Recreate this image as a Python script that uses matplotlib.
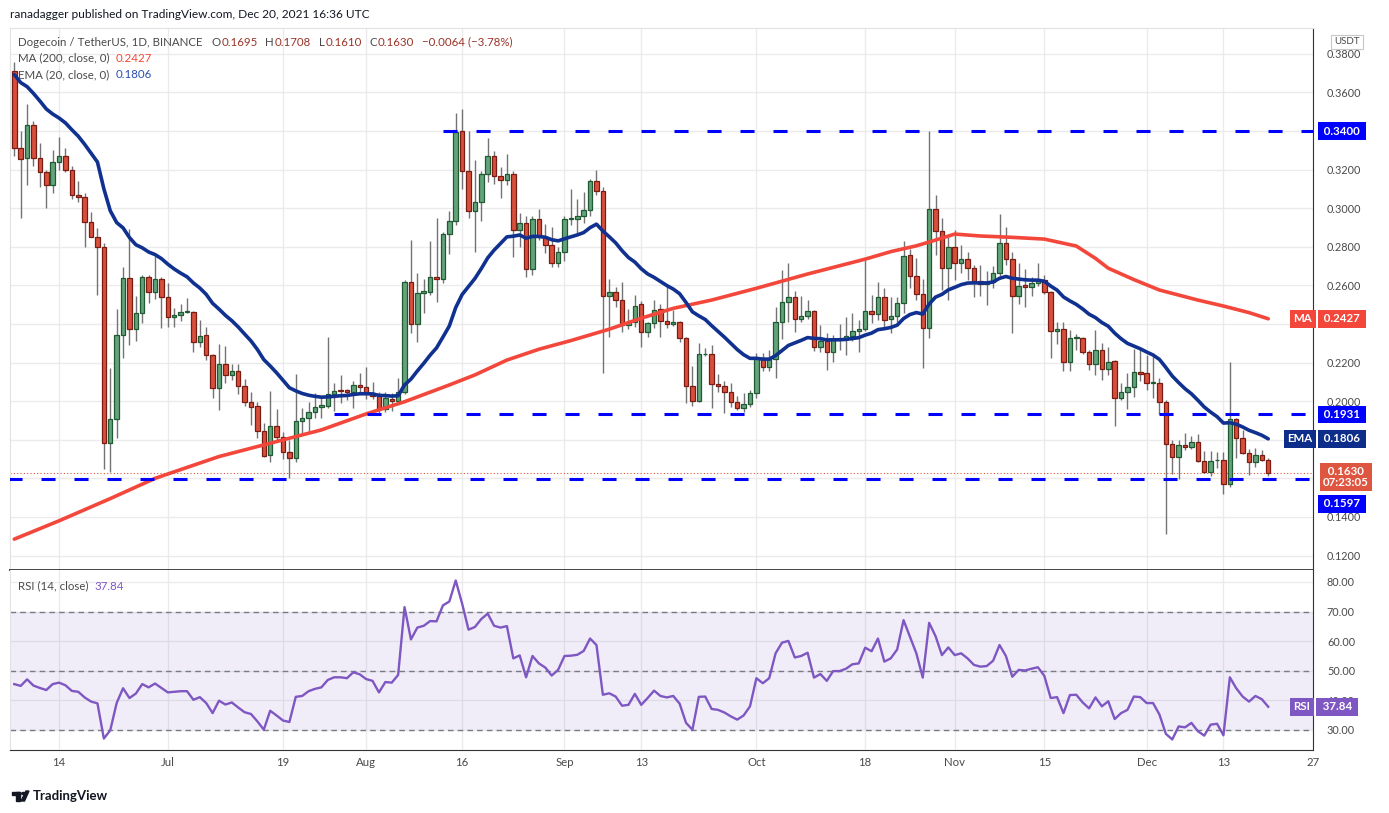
import matplotlib
matplotlib.use('Agg')
import matplotlib.pyplot as plt
import matplotlib.transforms as mtransforms
from matplotlib.patches import Rectangle, Polygon, Circle
import numpy as np
import pandas as pd

plt.rcParams['font.family'] = ['Lato', 'DejaVu Sans']

# ---- data (DOGE/USDT daily, Binance) ----
start = pd.Timestamp('2021-06-07')

opens = [0.371, 0.331, 0.326, 0.343, 0.326, 0.319, 0.312, 0.324, 0.327, 0.320,
         0.307, 0.3057, 0.293, 0.2853, 0.280, 0.1785, 0.1906, 0.2343, 0.2637, 0.2373,
         0.2456, 0.2642, 0.2568, 0.2633, 0.254, 0.2436, 0.2447, 0.2461, 0.2461, 0.2309,
         0.2343, 0.224, 0.2067, 0.2193, 0.2134, 0.2154, 0.2079, 0.1995, 0.1975, 0.1847,
         0.1722, 0.1869, 0.1812, 0.1736, 0.1705, 0.1899, 0.1912, 0.1946, 0.1969, 0.1975,
         0.2036, 0.2057, 0.2056, 0.2047, 0.2083, 0.2073, 0.2041, 0.2029, 0.1958, 0.201,
         0.2003, 0.2047, 0.2616, 0.2399, 0.2559, 0.2568, 0.2642, 0.2633, 0.2865, 0.2936,
         0.3398, 0.3193, 0.2988, 0.3031, 0.3176, 0.3269, 0.3166, 0.3145, 0.3176, 0.2888,
         0.2922, 0.2684, 0.2943, 0.2853, 0.2808, 0.2715, 0.2775, 0.2943, 0.2943, 0.2958,
         0.299, 0.3141, 0.3089, 0.2547, 0.2565, 0.2523, 0.2394, 0.2409, 0.2503, 0.2357,
         0.2404, 0.2477, 0.2416, 0.2399, 0.2409, 0.2326, 0.2081, 0.2003, 0.2243, 0.2243,
         0.2088, 0.2081, 0.2047, 0.1995, 0.1964, 0.1984, 0.2041, 0.2223, 0.2179, 0.2218,
         0.2412, 0.2513, 0.2539, 0.2425, 0.2442, 0.2467, 0.2283, 0.2312, 0.2257, 0.232,
         0.2321, 0.2338, 0.2366, 0.2373, 0.2469, 0.245, 0.2542, 0.2425, 0.2443, 0.2508,
         0.2756, 0.2649, 0.2555, 0.2378, 0.2995, 0.2882, 0.2689, 0.2798, 0.2715, 0.2736,
         0.2689, 0.2625, 0.2606, 0.2616, 0.2663, 0.2818, 0.2736, 0.2547, 0.2602, 0.259,
         0.2611, 0.2627, 0.2565, 0.2362, 0.2373, 0.2205, 0.2326, 0.2326, 0.2254, 0.2192,
         0.2265, 0.2166, 0.2208, 0.2015, 0.2047, 0.2071, 0.215, 0.2145, 0.2094, 0.2094,
         0.1995, 0.1778, 0.171, 0.1773, 0.1762, 0.1788, 0.1691, 0.1635, 0.1693, 0.1695,
         0.1571, 0.1906, 0.1808, 0.173, 0.1684, 0.1721, 0.1695]
highs = [0.376, 0.340, 0.354, 0.345, 0.334, 0.320, 0.330, 0.337, 0.331, 0.322,
         0.314, 0.308, 0.298, 0.2896, 0.282, 0.217, 0.248, 0.2694, 0.289, 0.2547,
         0.2653, 0.2655, 0.2752, 0.2645, 0.2612, 0.2484, 0.2504, 0.2533, 0.2465, 0.2421,
         0.2386, 0.2245, 0.2296, 0.2286, 0.2193, 0.2192, 0.2113, 0.2047, 0.1995, 0.1886,
         0.2053, 0.1958, 0.184, 0.180, 0.2142, 0.1964, 0.1995, 0.2041, 0.2025, 0.2331,
         0.2093, 0.2136, 0.2065, 0.2105, 0.2145, 0.2179, 0.2099, 0.2045, 0.2045, 0.204,
         0.2119, 0.2628, 0.2835, 0.2663, 0.2633, 0.283, 0.2951, 0.2879, 0.2988, 0.3495,
         0.3514, 0.3398, 0.325, 0.3193, 0.3362, 0.3297, 0.3212, 0.328, 0.3193, 0.2974,
         0.296, 0.296, 0.2996, 0.2917, 0.2902, 0.2801, 0.296, 0.310, 0.3048, 0.3083,
         0.315, 0.3198, 0.3112, 0.2632, 0.2594, 0.2616, 0.2477, 0.255, 0.2519, 0.2408,
         0.2524, 0.2505, 0.2597, 0.2472, 0.2415, 0.2335, 0.2182, 0.23, 0.2275, 0.2291,
         0.2141, 0.2102, 0.2094, 0.2027, 0.2041, 0.2058, 0.2249, 0.2249, 0.2265, 0.2487,
         0.268, 0.2715, 0.2571, 0.2545, 0.2524, 0.2475, 0.2395, 0.2352, 0.2345, 0.24,
         0.2438, 0.2459, 0.2421, 0.2732, 0.255, 0.2616, 0.2585, 0.2542, 0.2542, 0.283,
         0.2791, 0.2741, 0.2632, 0.340, 0.3068, 0.2948, 0.2853, 0.2887, 0.2809, 0.2775,
         0.2706, 0.2706, 0.2675, 0.27, 0.2969, 0.2902, 0.2771, 0.2715, 0.2684, 0.2643,
         0.2715, 0.2654, 0.257, 0.2412, 0.2412, 0.2369, 0.235, 0.2335, 0.2265, 0.2369,
         0.23, 0.228, 0.2215, 0.2096, 0.2145, 0.2269, 0.2275, 0.2239, 0.2234, 0.212,
         0.2005, 0.18, 0.18, 0.1834, 0.182, 0.183, 0.1744, 0.1744, 0.1736, 0.1734,
         0.2205, 0.1915, 0.1851, 0.1752, 0.1755, 0.1745, 0.1708]
lows = [0.327, 0.295, 0.312, 0.322, 0.311, 0.300, 0.308, 0.320, 0.319, 0.305,
        0.303, 0.280, 0.285, 0.255, 0.165, 0.1635, 0.181, 0.2222, 0.229, 0.231,
        0.2405, 0.251, 0.253, 0.2378, 0.2386, 0.2386, 0.2415, 0.2455, 0.2257, 0.228,
        0.2213, 0.2015, 0.1954, 0.2093, 0.211, 0.2037, 0.1975, 0.1874, 0.1808, 0.171,
        0.1687, 0.1791, 0.1699, 0.160, 0.1687, 0.1834, 0.1834, 0.1912, 0.1912, 0.1964,
        0.1951, 0.1989, 0.2005, 0.1964, 0.2036, 0.201, 0.201, 0.1934, 0.1943, 0.1951,
        0.1989, 0.2037, 0.2352, 0.2306, 0.2456, 0.255, 0.2516, 0.261, 0.2761, 0.2913,
        0.310, 0.2948, 0.2775, 0.2936, 0.3138, 0.3128, 0.3052, 0.312, 0.2746, 0.2801,
        0.2642, 0.2654, 0.2835, 0.2767, 0.2697, 0.2697, 0.2728, 0.2913, 0.287, 0.2922,
        0.296, 0.307, 0.2148, 0.2335, 0.2487, 0.2357, 0.2375, 0.2385, 0.2283, 0.2335,
        0.2381, 0.2332, 0.2378, 0.2388, 0.2309, 0.1989, 0.1977, 0.1995, 0.2235, 0.1967,
        0.2045, 0.1941, 0.1972, 0.1955, 0.1946, 0.1969, 0.2019, 0.2154, 0.2155, 0.2122,
        0.2322, 0.2412, 0.2357, 0.2412, 0.2426, 0.2262, 0.2254, 0.2159, 0.2205, 0.2265,
        0.2239, 0.231, 0.2254, 0.2365, 0.2404, 0.2421, 0.2386, 0.2352, 0.2412, 0.2456,
        0.2585, 0.2524, 0.2171, 0.2326, 0.2757, 0.2576, 0.2524, 0.2628, 0.2663, 0.2628,
        0.2542, 0.2545, 0.2498, 0.2585, 0.265, 0.2706, 0.2352, 0.2505, 0.2487, 0.2545,
        0.2595, 0.2555, 0.2226, 0.2295, 0.2154, 0.2154, 0.2265, 0.2245, 0.2162, 0.2136,
        0.211, 0.2136, 0.1869, 0.2005, 0.1958, 0.2024, 0.2103, 0.2058, 0.2015, 0.1936,
        0.1311, 0.1622, 0.1596, 0.1747, 0.175, 0.1685, 0.1627, 0.1613, 0.1656, 0.1519,
        0.1553, 0.1705, 0.1725, 0.1618, 0.1661, 0.1688, 0.1610]
closes = [0.331, 0.3255, 0.343, 0.326, 0.3186, 0.312, 0.324, 0.327, 0.320, 0.307,
          0.3057, 0.293, 0.2853, 0.280, 0.1785, 0.1906, 0.2343, 0.2637, 0.2373, 0.2456,
          0.2642, 0.2568, 0.2633, 0.254, 0.2436, 0.2447, 0.2461, 0.2463, 0.2309, 0.2338,
          0.224, 0.2067, 0.2193, 0.2136, 0.2154, 0.2077, 0.1998, 0.1972, 0.1847, 0.1718,
          0.1869, 0.1812, 0.1736, 0.1705, 0.1899, 0.1912, 0.1946, 0.1969, 0.198, 0.2036,
          0.2055, 0.2053, 0.2045, 0.2083, 0.2073, 0.2041, 0.2029, 0.1958, 0.2016, 0.2003,
          0.2047, 0.2616, 0.2399, 0.2559, 0.2571, 0.2642, 0.2633, 0.2865, 0.2936, 0.3393,
          0.3193, 0.2988, 0.3031, 0.3176, 0.3269, 0.3166, 0.3145, 0.3176, 0.2888, 0.2922,
          0.2684, 0.2943, 0.2853, 0.281, 0.2715, 0.2775, 0.2943, 0.2945, 0.2958, 0.299,
          0.3141, 0.3089, 0.2547, 0.2565, 0.2523, 0.2394, 0.2409, 0.2495, 0.2357, 0.2404,
          0.2474, 0.2416, 0.2399, 0.2409, 0.2326, 0.2081, 0.2003, 0.2243, 0.2245, 0.2088,
          0.2081, 0.2047, 0.1995, 0.1964, 0.1986, 0.2041, 0.2223, 0.2179, 0.2218, 0.2409,
          0.2513, 0.2539, 0.2425, 0.2442, 0.2467, 0.2283, 0.2312, 0.2257, 0.2321, 0.2322,
          0.2338, 0.2366, 0.2373, 0.2469, 0.245, 0.2542, 0.2421, 0.2443, 0.2508, 0.2752,
          0.2649, 0.2555, 0.2378, 0.2995, 0.2882, 0.2689, 0.2798, 0.2715, 0.2736, 0.2689,
          0.2625, 0.2606, 0.2616, 0.2663, 0.2818, 0.2736, 0.2547, 0.2599, 0.259, 0.2611,
          0.2627, 0.2565, 0.2362, 0.2373, 0.2205, 0.2326, 0.2328, 0.2254, 0.2192, 0.2265,
          0.2166, 0.2205, 0.2015, 0.2047, 0.2071, 0.215, 0.2141, 0.2094, 0.2095, 0.1995,
          0.1778, 0.171, 0.1773, 0.1762, 0.1788, 0.1691, 0.1635, 0.1691, 0.1697, 0.1571,
          0.1906, 0.1808, 0.173, 0.1684, 0.1721, 0.1694, 0.1630]

rsi = [45.5, 44.9, 47.1, 45.0, 44.2, 43.5, 45.5, 46.0, 45.1, 43.2,
       42.9, 41.0, 39.6, 39.0, 27.1, 29.9, 39.1, 44.1, 40.8, 42.3,
       45.5, 44.4, 45.7, 44.2, 42.7, 42.9, 43.1, 43.1, 40.2, 41.1,
       39.1, 35.7, 39.9, 38.6, 39.3, 37.6, 36.0, 35.4, 32.9, 30.1,
       36.5, 34.9, 33.2, 32.7, 41.2, 41.5, 43.1, 43.9, 44.4, 46.9,
       47.8, 47.8, 47.5, 49.5, 48.8, 47.2, 46.6, 42.7, 46.2, 46.0,
       48.6, 71.5, 60.6, 64.6, 65.2, 66.8, 66.7, 72.1, 73.4, 80.5,
       72.7, 63.9, 64.8, 67.5, 69.3, 65.2, 64.6, 65.1, 54.2, 55.2,
       47.8, 55.0, 52.5, 51.1, 48.4, 50.3, 55.0, 55.1, 55.4, 56.7,
       60.9, 58.7, 41.9, 42.4, 41.3, 38.2, 38.5, 42.2, 38.5, 40.8,
       43.3, 41.5, 41.0, 41.5, 38.9, 32.4, 30.1, 41.2, 41.3, 37.1,
       36.8, 35.9, 34.6, 33.5, 34.9, 38.0, 47.5, 45.8, 47.5, 55.9,
       59.5, 60.1, 54.5, 55.0, 56.1, 47.7, 48.9, 46.6, 49.9, 49.9,
       50.7, 52.2, 52.5, 57.8, 56.6, 60.9, 53.1, 54.2, 57.2, 67.1,
       61.5, 55.9, 47.7, 66.2, 61.7, 55.3, 57.9, 55.3, 55.9, 54.2,
       52.0, 51.4, 51.6, 53.4, 58.7, 55.0, 48.0, 50.3, 50.1, 50.7,
       51.2, 48.3, 40.8, 41.1, 35.7, 41.8, 41.9, 39.3, 37.3, 41.0,
       38.0, 39.7, 33.7, 35.7, 36.8, 41.3, 41.1, 39.1, 39.1, 35.2,
       28.7, 26.8, 31.2, 30.9, 32.4, 29.6, 28.1, 31.8, 32.1, 28.2,
       47.8, 44.1, 41.3, 39.6, 41.5, 40.4, 37.84]

# 200-day MA (day index, value)
ma_idx = [0, 7, 15, 22, 32, 40, 48, 55, 61, 68, 72, 77, 82, 87, 93, 98, 103,
          109, 116, 124, 133, 137, 141, 144, 147, 151, 156, 161, 166, 169, 171,
          175, 179, 185, 189, 193, 196]
ma_val = [0.1285, 0.138, 0.1495, 0.160, 0.1713, 0.1782, 0.1851, 0.1934, 0.1997,
          0.2084, 0.2136, 0.2213, 0.2269, 0.2314, 0.2373, 0.243, 0.2481, 0.2524,
          0.2585, 0.2659, 0.2736, 0.2775, 0.2805, 0.2835, 0.2866, 0.2856, 0.2849,
          0.284, 0.2804, 0.274, 0.2689, 0.263, 0.2576, 0.2524, 0.2493, 0.2459, 0.2427]
ema_seed = 0.3733

levels = [0.3400, 0.1931, 0.1597]
level_from = [67, 50, -1]
last_price = 0.1630

tick_dates = ['2021-06-14', '2021-07-01', '2021-07-19', '2021-08-01', '2021-08-16',
              '2021-09-01', '2021-09-13', '2021-10-01', '2021-10-18', '2021-11-01',
              '2021-11-15', '2021-12-01', '2021-12-13', '2021-12-27']
tick_labels = ['14', 'Jul', '19', 'Aug', '16', 'Sep', '13', 'Oct', '18', 'Nov',
               '15', 'Dec', '13', '27']
price_ticks = np.round(np.arange(0.12, 0.3801, 0.02), 2)
hidden_ticks = [0.16, 0.18, 0.24, 0.34]   # covered by the value tags on the axis

# ---- figure ----
W, H = 1389, 813
fig = plt.figure(figsize=(W / 100, H / 100), dpi=100)


def fx(p):
    return p / W


def fy(p):
    return 1 - p / H


ax = fig.add_axes([fx(10), fy(570), fx(1313) - fx(10), fy(28) - fy(570)])
rax = fig.add_axes([fx(10), fy(750), fx(1313) - fx(10), fy(570) - fy(750)], sharex=ax)

o = np.array(opens)
h = np.array(highs)
l = np.array(lows)
c = np.array(closes)
x = np.arange(len(c))
up = c >= o

ema = []
prev = ema_seed
for v in c:
    prev = prev + (v - prev) * 2 / 21
    ema.append(prev)

# candles
ax.vlines(x, l, h, color='#737375', lw=1, zorder=3)
ax.bar(x, np.maximum(np.abs(c - o), 0.0004), bottom=np.minimum(o, c), width=0.7,
       color=np.where(up, '#64a37b', '#d6503d'), edgecolor=np.where(up, '#1f5a33', '#7a1c12'),
       linewidth=0.9, zorder=4)

ax.plot(ma_idx, ma_val, color='#f4473b', lw=2.6, zorder=5, solid_capstyle='round')
ax.plot(x, ema, color='#10318f', lw=2.6, zorder=5, solid_capstyle='round')

xmax = 203.0
for lev, x0 in zip(levels, level_from):
    ax.hlines(lev, x0, xmax, colors='#0000ff', lw=2.2, linestyles=(0, (4.6, 6.2)), zorder=6)
ax.axhline(last_price, color='#e0533f', lw=0.8, ls=(0, (1, 2)), zorder=2)

ax.set_xlim(-0.67, xmax)
ax.set_ylim(0.1125, 0.3934)
ax.set_yticks(price_ticks)
ax.set_yticklabels(['' if t in hidden_ticks else '%.4f' % t for t in price_ticks])
tick_pos = [(pd.Timestamp(d) - start).days for d in tick_dates]
ax.set_xticks(tick_pos)
ax.grid(color='#ebebeb', lw=1)
ax.set_axisbelow(True)
ax.tick_params(axis='y', right=True, left=False, labelright=True, labelleft=False,
               length=0, pad=10, labelsize=7.8, labelcolor='#4a4a4a')
ax.tick_params(axis='x', length=0, labelbottom=False)
for s in ['top', 'left']:
    ax.spines[s].set_color('#e2e2e2')
ax.spines['right'].set_color('#333333')
ax.spines['bottom'].set_color('#444444')
ax.spines['bottom'].set_linewidth(1.4)

# RSI pane
rax.axhspan(30, 70, color='#7e57c2', alpha=0.1, lw=0)
for lev in [30, 50, 70]:
    rax.axhline(lev, color='#787b86', lw=1, ls=(0, (4, 3)), zorder=2)
rax.plot(x, rsi, color='#7e57c2', lw=1.7, zorder=4)
rax.set_ylim(23.24, 84.05)
rax.set_yticks([30, 40, 50, 60, 70, 80])
rax.set_yticklabels(['%.2f' % t for t in [30, 40, 50, 60, 70, 80]])
rax.set_xticks(tick_pos)
rax.set_xticklabels(tick_labels)
rax.grid(color='#ebebeb', lw=1)
rax.set_axisbelow(True)
rax.tick_params(axis='y', right=True, left=False, labelright=True, labelleft=False,
                length=0, pad=10, labelsize=7.8, labelcolor='#4a4a4a')
rax.tick_params(axis='x', length=0, pad=5, labelsize=8.2, labelcolor='#4a4a4a')
rax.spines['top'].set_visible(False)
rax.spines['left'].set_color('#e2e2e2')
rax.spines['right'].set_color('#333333')
rax.spines['bottom'].set_color('#333333')


def tag(axis, xp, yv, text, bg, dy=0, va='center', fs=8.3, ls=1.2, pad=0.3):
    trans = mtransforms.blended_transform_factory(axis.transAxes, axis.transData)
    trans = mtransforms.offset_copy(trans, fig=fig, y=dy, units='dots')
    axis.text((xp - 10) / 1303, yv, text, transform=trans, ha='center', va=va,
              color='white', fontsize=fs, fontweight='bold', linespacing=ls,
              bbox=dict(boxstyle='square,pad=%.2f' % pad, fc=bg, ec='none'),
              clip_on=False, zorder=20)


tag(ax, 1342, levels[0], ' %.4f ' % levels[0], '#0000ff')
tag(ax, 1342, levels[1], ' %.4f ' % levels[1], '#0000ff')
tag(ax, 1342, levels[2], ' %.4f ' % levels[2], '#0000ff', dy=-25)
tag(ax, 1342, ma_val[-1], ' %.4f ' % ma_val[-1], '#f4473b')
tag(ax, 1303, ma_val[-1], 'MA', '#f4473b')
tag(ax, 1342, 0.1806, ' 0.1806 ', '#0c2d8a')
tag(ax, 1300, 0.1806, 'EMA', '#0c2d8a')
tag(ax, 1346, last_price, ' %.4f \n07:23:05' % last_price, '#de5540', dy=7, va='top',
    ls=1.1, pad=0.25)
tag(rax, 1337, rsi[-1], ' %.2f ' % rsi[-1], '#7e57c2')
tag(rax, 1302, rsi[-1], 'RSI', '#7e57c2')

fig.text(fx(1347), fy(42), 'USDT', fontsize=7, color='#4a4a4a', ha='center', va='center',
         bbox=dict(boxstyle='square,pad=0.3', fc='white', ec='#c8c8c8', lw=0.8))

# header texts, laid out piece by piece
renderer = fig.canvas.get_renderer()


def chain(x0, y, pieces, fs=8.3):
    xp = x0
    for txt, col, gap in pieces:
        t = fig.text(fx(xp), fy(y), txt, fontsize=fs, color=col, va='center')
        xp = t.get_window_extent(renderer).x1 + gap
    return xp


fig.text(fx(10), fy(14), 'ranadagger published on TradingView.com, Dec 20, 2021 16:36 UTC',
         fontsize=8.6, color='#131722', va='center')
ohlc_col = '#9a3327'
chg = closes[-1] - closes[-2]
pieces = [('Dogecoin / TetherUS, 1D, BINANCE', '#4a4a4a', 9)]
for letter, val in [('O', opens[-1]), ('H', highs[-1]), ('L', lows[-1]), ('C', closes[-1])]:
    pieces.append((letter, '#4a4a4a', 0.5))
    pieces.append(('%.4f' % val, ohlc_col, 8))
pieces.append(('\u2212%.4f (\u2212%.2f%%)' % (-chg, -chg / closes[-2] * 100), ohlc_col, 0))
chain(18, 42, pieces)
chain(18, 58, [('MA (200, close, 0)', '#4a4a4a', 6), ('%.4f' % ma_val[-1], '#f4473b', 0)])
chain(18, 75, [('EMA (20, close, 0)', '#4a4a4a', 6), ('0.1806', '#2a4fb0', 0)])
chain(18, 586, [('RSI (14, close)', '#4a4a4a', 6), ('%.2f' % rsi[-1], '#7e57c2', 0)])

# TradingView logo
fig.patches.append(Rectangle((fx(12), fy(795)), fx(8), 3 / H, transform=fig.transFigure,
                             color='#131722'))
fig.patches.append(Rectangle((fx(16), fy(801)), fx(4), 9 / H, transform=fig.transFigure,
                             color='#131722'))
fig.patches.append(Circle((fx(23.5), fy(793.5)), 1.8 / W, transform=fig.transFigure,
                          color='#131722'))
fig.patches.append(Polygon([(fx(21), fy(801)), (fx(26), fy(791)), (fx(29), fy(791)),
                            (fx(24.5), fy(801))], transform=fig.transFigure, color='#131722'))
fig.text(fx(33), fy(796), 'TradingView', fontsize=9.5, fontweight='bold', color='#131722',
         va='center')

fig.savefig('out.png', dpi=100, facecolor='white')
